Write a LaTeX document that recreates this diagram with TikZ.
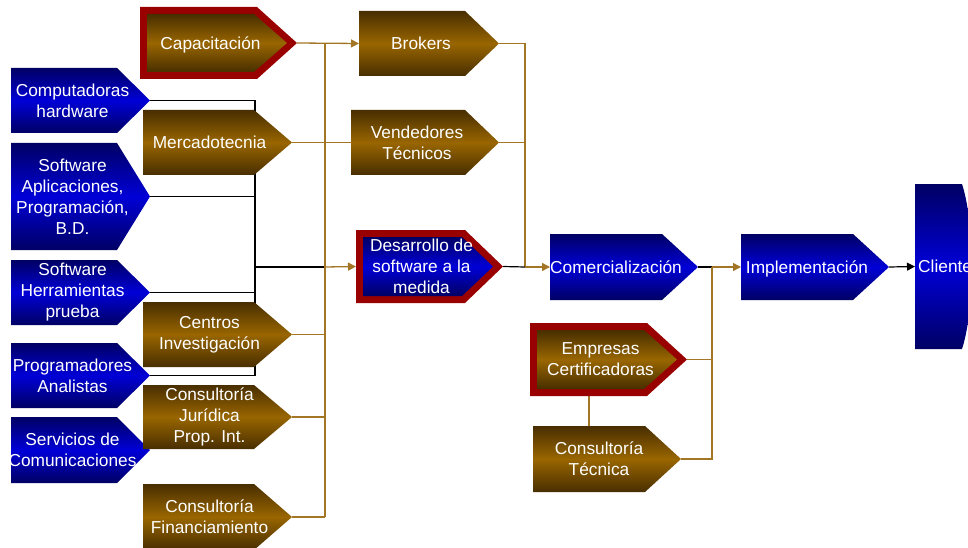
\documentclass[tikz,border=0pt]{standalone}
\usepackage{fontspec}
\setmainfont{Liberation Sans}
\usetikzlibrary{arrows.meta}

\definecolor{bldark}{RGB}{0,0,100}
\definecolor{blmid}{RGB}{0,0,215}
\definecolor{brdark}{RGB}{72,46,0}
\definecolor{brmid}{RGB}{153,102,0}
\definecolor{frame}{RGB}{153,0,0}
\definecolor{brline}{RGB}{163,118,38}

\pgfdeclarelayer{bg}
\pgfsetlayers{bg,main}

\tikzset{
  ptip/.code={\def\ptip{#1}},
  ptip=35pt,
  pbox/.style={rectangle, inner sep=0pt, outer sep=0pt, anchor=north west},
  % plain arrow-shaped box, shaded dark-light-dark from top to bottom
  shapefill/.style 2 args={pbox, path picture={
    \shade[top color=#1, bottom color=#1, middle color=#2]
      (path picture bounding box.north west)
      -- ([xshift=-\ptip]path picture bounding box.north east)
      -- (path picture bounding box.east)
      -- ([xshift=-\ptip]path picture bounding box.south east)
      -- (path picture bounding box.south west) -- cycle;}},
  % same box with a thick red frame
  framefill/.style 2 args={pbox, path picture={
    \fill[frame]
      (path picture bounding box.north west)
      -- ([xshift=-\ptip]path picture bounding box.north east)
      -- (path picture bounding box.east)
      -- ([xshift=-\ptip]path picture bounding box.south east)
      -- (path picture bounding box.south west) -- cycle;
    \shade[top color=#1, bottom color=#1, middle color=#2]
      ([shift={(7pt,-7pt)}]path picture bounding box.north west)
      -- ([shift={(-\ptip-3pt,-7pt)}]path picture bounding box.north east)
      -- ([xshift=-10pt]path picture bounding box.east)
      -- ([shift={(-\ptip-3pt,7pt)}]path picture bounding box.south east)
      -- ([shift={(7pt,7pt)}]path picture bounding box.south west) -- cycle;}},
  bluebox/.style={shapefill={bldark}{blmid}},
  brownbox/.style={shapefill={brdark}{brmid}},
  redbrown/.style={framefill={brdark}{brmid}},
  redblue/.style={framefill={bldark}{blmid}},
  lbl/.style={text=white, align=center, inner sep=0pt,
    font=\fontsize{17.3pt}{21pt}\selectfont},
  % one-line labels: fixed box so that capitals sit on the centre line
  lbl1/.style={lbl, text height=12.5pt, text depth=0pt},
  blk/.style={draw=black, line width=1.2pt},
  brn/.style={draw=brline, line width=1.3pt},
  tipped/.style={-{Triangle[length=8pt,width=8pt]}},
}

\newcommand\boxlabel[2]{\node[lbl] at ([xshift=-8pt]#1.center) {#2};}
\newcommand\onelabel[2]{\node[lbl1] at ([xshift=-8pt]#1.center) {#2};}

\begin{document}
\begin{tikzpicture}[x=1pt, y=-1pt]
\useasboundingbox (0,0) rectangle (968,548);

% junctions of the buses
\coordinate (kj) at (255,267);
\coordinate (kb) at (325,267);
\coordinate (rb) at (525,267);
\coordinate (cb) at (712,267);

% ---- left column: resources ----
\node[bluebox, ptip=33pt, minimum width=139pt, minimum height=65pt] (comp) at (11,68) {};
\boxlabel{comp}{Computadoras\\hardware}
\node[bluebox, ptip=33pt, minimum width=139pt, minimum height=107pt] (swapp) at (11,143) {};
\boxlabel{swapp}{Software\\Aplicaciones,\\Programación,\\B.D.}
\node[bluebox, ptip=33pt, minimum width=139pt, minimum height=65pt] (swher) at (11,260) {};
\boxlabel{swher}{Software\\Herramientas\\prueba}
\node[bluebox, ptip=33pt, minimum width=139pt, minimum height=65pt] (prog) at (11,343) {};
\boxlabel{prog}{Programadores\\Analistas}
\node[bluebox, ptip=33pt, minimum width=139pt, minimum height=66pt] (serv) at (11,417) {};
\boxlabel{serv}{Servicios de\\Comunicaciones}

% ---- second column: support ----
\node[redbrown, ptip=40pt, minimum width=157pt, minimum height=72pt] (cap) at (140,7) {};
\onelabel{cap}{Capacitación}
\node[brownbox, ptip=38pt, minimum width=149pt, minimum height=65pt] (merc) at (143,110) {};
\onelabel{merc}{Mercadotecnia}
\node[brownbox, ptip=38pt, minimum width=149pt, minimum height=65pt] (cent) at (143,302) {};
\boxlabel{cent}{Centros\\Investigación}
\node[brownbox, ptip=38pt, minimum width=149pt, minimum height=64pt] (jur) at (143,385) {};
\boxlabel{jur}{Consultoría\\Jurídica\\Prop. Int.}
\node[brownbox, ptip=38pt, minimum width=149pt, minimum height=66pt] (fin) at (143,484) {};
\boxlabel{fin}{Consultoría\\Financiamiento}

% ---- third column ----
\node[brownbox, ptip=34pt, minimum width=140pt, minimum height=65pt] (brok) at (359,11) {};
\onelabel{brok}{Brokers}
\node[brownbox, ptip=34pt, minimum width=148pt, minimum height=65pt] (vend) at (351,110) {};
\boxlabel{vend}{Vendedores\\Técnicos}
\node[redblue, ptip=38pt, minimum width=147pt, minimum height=73pt] (desa) at (356,230) {};
\boxlabel{desa}{Desarrollo de\\software a la\\medida}

% ---- fourth column ----
\node[bluebox, ptip=36pt, minimum width=148pt, minimum height=66pt] (com) at (550,234) {};
\onelabel{com}{Comercialización}
\node[redbrown, ptip=40pt, minimum width=157pt, minimum height=73pt] (emp) at (530,323) {};
\boxlabel{emp}{Empresas\\Certificadoras}
\node[brownbox, ptip=36pt, minimum width=148pt, minimum height=66pt] (ctec) at (533,426) {};
\boxlabel{ctec}{Consultoría\\Técnica}

% ---- last steps ----
\node[bluebox, ptip=36pt, minimum width=148pt, minimum height=66pt] (impl) at (741,234) {};
\onelabel{impl}{Implementación}
\node[pbox, minimum width=70pt, minimum height=165pt, path picture={
    \shade[top color=bldark, bottom color=bldark, middle color=blmid]
      (path picture bounding box.north west) -- ++(47pt,0pt)
      .. controls +(13pt,-40pt) and +(13pt,40pt) ..
      ([xshift=47pt]path picture bounding box.south west)
      -- (path picture bounding box.south west) -- cycle;}] (cli) at (915,184) {};
\node[lbl1, anchor=west] at ([xshift=3pt]cli.west) {Clientes};

% ---- connectors, kept behind the boxes ----
\begin{pgfonlayer}{bg}
  % black bus gathering the resources
  \draw[blk] (comp.east) -| (kj);
  \draw[blk] (swapp.east) -| (kj);
  \draw[blk] (swher.east) -| (kj);
  \draw[blk] (prog.east) -| (kj);
  \draw[blk] (kj) -- (kb);
  % brown bus of the support column
  \draw[brn] (kb |- cap.east) -- (kb |- fin.east);
  \draw[brn, tipped] (cap.east) -- (brok.west);
  \draw[brn] (merc.east) -- (vend.west);
  \draw[brn] (cent.east) -- (cent.east -| kb);
  \draw[brn] (jur.east) -- (jur.east -| kb);
  \draw[brn] (fin.east) -- (fin.east -| kb);
  \draw[brn, tipped] (kb) -- (desa.west);
  % towards Comercialización
  \draw[brn] (brok.east) -| (rb);
  \draw[brn] (vend.east) -| (rb);
  \draw[blk] (desa.east) -- (rb);
  \draw[brn, tipped] (rb) -- (com.west);
  % towards Implementación
  \draw[blk] (com.east) -- (cb);
  \draw[brn, tipped] (cb) -- (impl.west);
  \draw[brn] (emp.east) -| (cb);
  \draw[brn] (ctec.east) -| (cb);
  \draw[brn] ([xshift=59pt]emp.south west) -- ([xshift=59pt]emp.south west |- ctec.north);
  % to the client
  \draw[blk, tipped] (impl.east) -- (cli.west);
\end{pgfonlayer}
\end{tikzpicture}
\end{document}
